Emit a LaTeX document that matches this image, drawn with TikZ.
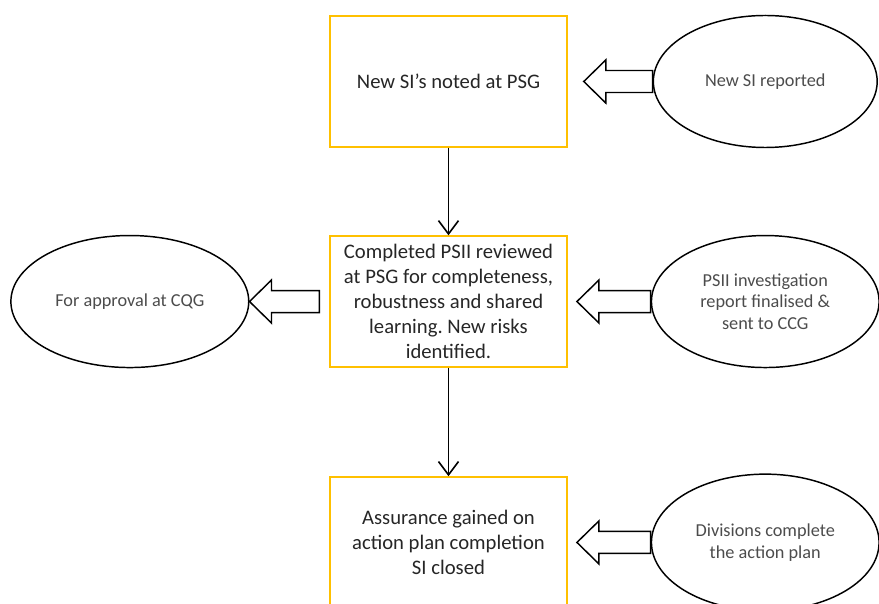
\documentclass[tikz,border=0pt]{standalone}
\usepackage{fontspec}
\setmainfont{Carlito}
\frenchspacing
\usetikzlibrary{shapes.geometric, arrows.meta, calc}
\definecolor{boxgold}{HTML}{FFC000}
\tikzstyle{process} = [rectangle, minimum width=6.25cm, minimum height=3.45cm, text centered, align=center, draw=boxgold, line width=1.2pt, text=black!85, font=\fontsize{15.5}{18.75}\selectfont]
\tikzstyle{source} = [ellipse, minimum width=6cm, minimum height=3.48cm, inner sep=0pt, text centered, align=center, draw=black, line width=1.1pt, text=black!70, font=\fontsize{13.7}{16.1}\selectfont]
\tikzstyle{arrow} = [line width=1.2pt, -{Straight Barb[length=10pt,width=15pt]}]
\tikzstyle{fatarrow} = [draw=black, line width=1.1pt, fill=white, line join=miter]
% hollow block arrow pointing left: #1 tail, #2 tip
\newcommand{\blockarrow}[2]{\draw[fatarrow] (#2) -- ++(0.58,0.567) -- ++(0,-0.277) -- ($(#1 |- #2)+(0,0.29)$) -- ++(0,-0.58) -- ($(#2)+(0.58,-0.29)$) -- ++(0,-0.277) -- cycle;}

\begin{document}
\begin{tikzpicture}[node distance=5.8cm]
	\useasboundingbox (-11.822,-13.747) rectangle (11.348,2.148);
	\clip (-11.822,-13.747) rectangle (11.348,2.148);
	\node (psg) [process] {New SI's noted at PSG};
	\node (rep) [source, right of=psg, xshift=2.55cm, minimum width=5.9cm] {New SI reported};
	\node (rev) [process, below of=psg] {Completed PSII reviewed\\at PSG for completeness,\\robustness and shared\\learning. New risks\\identified.};
		\draw [arrow] (psg) -- (rev);
	\node (inv) [source, right of=rev, xshift=2.55cm] {PSII investigation\\report finalised \&\\sent to CCG};
	\node (cqg) [source, left of=rev, xshift=-2.6cm, minimum width=6.27cm] {For approval at CQG};
	\node (ass) [process, below of=rev, yshift=-0.55cm] {Assurance gained on\\action plan completion\\SI closed};
		\draw [arrow] (rev) -- (ass);
	\node (div) [source, right of=ass, xshift=2.55cm, minimum height=3.6cm] {Divisions complete\\the action plan};

	\coordinate (t1) at ($(psg.east)+(0.42,0)$);
	\coordinate (t2) at ($(rev.east)+(0.24,0)$);
	\coordinate (t3) at ($(ass.east)+(0.24,0)$);
	\coordinate (c4) at ($(rev.west)+(-0.26,0)$);
	\blockarrow{rep.west}{t1}
	\blockarrow{inv.west}{t2}
	\blockarrow{div.west}{t3}
	\blockarrow{c4}{cqg.east}
\end{tikzpicture}
\end{document}
